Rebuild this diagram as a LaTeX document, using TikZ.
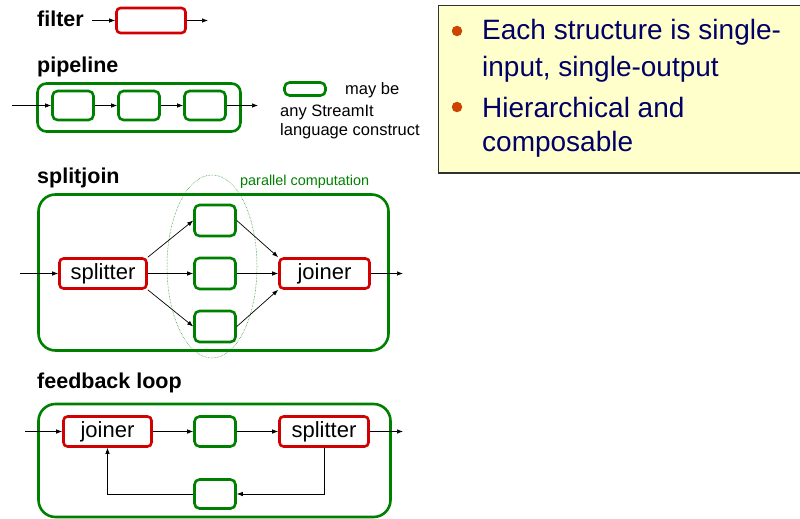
\documentclass[tikz,border=0pt]{standalone}
\usepackage{fontspec}
\setmainfont{Liberation Sans}
\usetikzlibrary{arrows.meta,shapes.geometric}
\definecolor{boxgreen}{RGB}{0,128,0}
\definecolor{boxred}{RGB}{210,0,0}
\definecolor{noteyellow}{RGB}{255,255,204}
\definecolor{notenavy}{RGB}{0,0,102}
\definecolor{bulletorange}{RGB}{204,68,0}
\definecolor{noteedge}{RGB}{50,50,50}

\begin{document}
\begin{tikzpicture}[x=1pt,y=-1pt,
  flow/.style={-{Latex[length=6pt,width=4.5pt]}, line width=0.7pt},
  redbox/.style={draw=boxred, line width=2.6pt, rounded corners=4pt, fill=white,
    inner sep=0pt, font=\fontsize{22}{24}\selectfont},
  greenbox/.style={draw=boxgreen, line width=2.6pt, rounded corners=5pt, fill=white,
    inner sep=0pt, minimum width=41pt},
  outerbox/.style={draw=boxgreen, line width=2.6pt, inner sep=0pt},
  kind/.style={anchor=base west, inner sep=0pt, font=\fontsize{21.5}{24}\selectfont\bfseries},
  legend/.style={anchor=base west, inner sep=0pt, font=\fontsize{16.5}{18}\selectfont},
  notetext/.style={anchor=base west, inner sep=0pt, text=notenavy, font=\fontsize{28}{30}\selectfont},
  bullet/.style={circle, fill=bulletorange, inner sep=0pt, minimum size=10.5pt}
]
\useasboundingbox (0,0) rectangle (800,519);

% ---------- filter ----------
\node[kind] (lfilter) at (37,27) {filter};
\node[redbox, minimum width=69pt, minimum height=25pt] (filt) at (151,20.5) {};
\coordinate (filtin) at (92,20.5);
\coordinate (filtout) at (208,20.5);
\draw[flow] (filtin) -- (filt.west);
\draw[flow] (filt.east) -- (filtout);

% ---------- pipeline ----------
\node[kind] (lpipe) at (37,72) {pipeline};
\node[outerbox, rounded corners=9pt, minimum width=203pt, minimum height=48pt] (pipe) at (139,107.5) {};
\node[greenbox, minimum height=29pt] (p1) at (73,105.5) {};
\node[greenbox, minimum height=29pt] (p2) at (139,105.5) {};
\node[greenbox, minimum height=29pt] (p3) at (205,105.5) {};
\coordinate (pipein) at (12,105.5);
\coordinate (pipeout) at (258,105.5);
\draw[flow] (pipein) -- (p1.west);
\draw[flow] (p1.east) -- (p2.west);
\draw[flow] (p2.east) -- (p3.west);
\draw[flow] (p3.east) -- (pipeout);

% legend
\node[greenbox, minimum height=13pt] (leg) at (305,89) {};
\node[legend] (leg1) at (345,94) {may be};
\node[legend] (leg2) at (280,116) {any StreamIt};
\node[legend] (leg3) at (280,135) {language construct};

% ---------- notes ----------
\draw[fill=noteyellow, draw=noteedge, line width=1.3pt] (438.5,5.5) rectangle (806,173);
\node[bullet] (b1) at (457,31) {};
\node[bullet] (b2) at (457,107) {};
\node[notetext] (n1) at (482,40) {Each structure is single-};
\node[notetext] (n2) at (482,76.5) {input, single-output};
\node[notetext] (n3) at (482,117) {Hierarchical and};
\node[notetext] (n4) at (482,151.5) {composable};

% ---------- splitjoin ----------
\node[kind] (lsj) at (37,183) {splitjoin};
\node[outerbox, rounded corners=17pt, minimum width=350pt, minimum height=156pt] (sj) at (213.5,272.5) {};
\node[ellipse, draw=boxgreen, densely dotted, line width=0.5pt, minimum width=90pt, minimum height=183pt, inner sep=0pt] (par) at (212,266.5) {};
\node[anchor=base west, inner sep=0pt, text=boxgreen, font=\fontsize{14.4}{16}\selectfont] (partext) at (240,185) {parallel computation};
\node[redbox, minimum width=87pt, minimum height=30pt] (split) at (103,273.5) {splitter};
\node[redbox, minimum width=90pt, minimum height=30pt] (join) at (324.5,273.5) {joiner};
\node[greenbox, minimum height=31pt] (s1) at (215,220.5) {};
\node[greenbox, minimum height=31pt] (s2) at (215,273.5) {};
\node[greenbox, minimum height=31pt] (s3) at (215,326.5) {};
\coordinate (sjin) at (20,273.5);
\coordinate (sjout) at (403,273.5);
\draw[flow] (sjin) -- (split.west);
\draw[flow] (split.north east) -- (s1.west);
\draw[flow] (split.east) -- (s2.west);
\draw[flow] (split.south east) -- (s3.west);
\draw[flow] (s1.east) -- (join.north west);
\draw[flow] (s2.east) -- (join.west);
\draw[flow] (s3.east) -- (join.south west);
\draw[flow] (join.east) -- (sjout);

% ---------- feedback loop ----------
\node[kind] (lfb) at (37,388) {feedback loop};
\node[outerbox, rounded corners=17pt, minimum width=352pt, minimum height=113pt] (fb) at (214.5,460.5) {};
\node[redbox, minimum width=88pt, minimum height=30pt] (fjoin) at (107.5,431.5) {joiner};
\node[greenbox, minimum height=30pt] (body) at (215,431.5) {};
\node[redbox, minimum width=89pt, minimum height=30pt] (fsplit) at (324,431.5) {splitter};
\node[greenbox, minimum height=29pt] (loop) at (215,494) {};
\coordinate (fbin) at (25,431.5);
\coordinate (fbout) at (403,431.5);
\draw[flow] (fbin) -- (fjoin.west);
\draw[flow] (fjoin.east) -- (body.west);
\draw[flow] (body.east) -- (fsplit.west);
\draw[flow] (fsplit.east) -- (fbout);
\draw[flow] (fsplit.south) |- (loop.east);
\draw[flow] (loop.west) -| (fjoin.south);
\end{tikzpicture}
\end{document}
